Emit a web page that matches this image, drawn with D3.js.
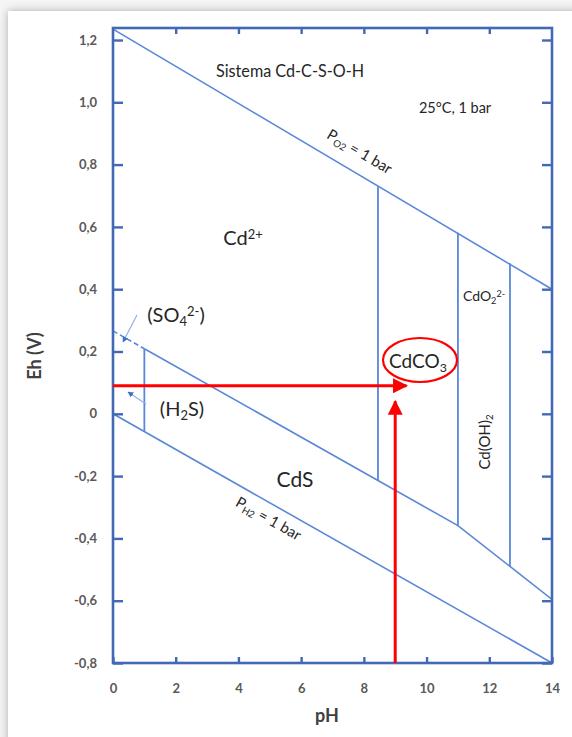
<!DOCTYPE html>
<html>
<head>
<meta charset="utf-8">
<script src="https://cdn.jsdelivr.net/npm/d3@7/dist/d3.min.js"></script>
<style>
  html, body { margin: 0; padding: 0; background: #ffffff; }
  svg { display: block; }
  text { font-family: Lato, "Open Sans", sans-serif; }
</style>
</head>
<body>
<svg id="chart" width="572" height="737"></svg>
<script>
// Eh–pH diagram, Cd-C-S-O-H system at 25 °C, 1 bar
const xTicks = [0, 2, 4, 6, 8, 10, 12, 14];
const yTicks = [-0.8, -0.6, -0.4, -0.2, 0, 0.2, 0.4, 0.6, 0.8, 1.0, 1.2];
const yTickLabels = ["-0,8", "-0,6", "-0,4", "-0,2", "0", "0,2", "0,4", "0,6", "0,8", "1,0", "1,2"];

// water stability limits (pH, Eh)
const o2Line = [[0, 1.235], [14, 0.40]];
const h2Line = [[0, 0], [14, -0.80]];
// sulfate / sulfide boundary, dashed where it leaves the Cd field
const sulfurDashed = [[0, 0.266], [1.0, 0.209]];
const sulfurLine = [[1.0, 0.209], [8.45, -0.214], [11.0, -0.359], [12.66, -0.490], [14, -0.596]];
// vertical phase boundaries: pH, upper Eh, lower Eh
const verticals = [
  [1.0, 0.209, -0.057],
  [8.45, 0.73, -0.214],
  [11.0, 0.581, -0.359],
  [12.66, 0.483, -0.490]
];
// conditions marked with red arrows
const markPH = 9.0, markEh = 0.09;
const hArrow = [[0, markEh], [9.36, markEh]];
const vArrow = [[markPH, -0.8], [markPH, 0.04]];

const svg = d3.select("#chart");
const frame = { left: 113, right: 552, top: 28, bottom: 663 };
const x = d3.scaleLinear().domain([0, 14]).range([frame.left, frame.right]);
const y = d3.scaleLinear().domain([-0.8, 1.2]).range([frame.bottom, 40]);

// card with soft shadow
const defs = svg.append("defs");
const sh = defs.append("filter").attr("id", "shadow").attr("x", "-10%").attr("y", "-10%").attr("width", "120%").attr("height", "120%");
sh.append("feGaussianBlur").attr("in", "SourceAlpha").attr("stdDeviation", 5);
sh.append("feOffset").attr("dx", 0).attr("dy", 0).attr("result", "b");
sh.append("feComponentTransfer").append("feFuncA").attr("type", "linear").attr("slope", 0.3);
const m = sh.append("feMerge");
m.append("feMergeNode");
m.append("feMergeNode").attr("in", "SourceGraphic");
svg.append("rect").attr("width", 572).attr("height", 737).attr("fill", "#f5f5f5");
svg.append("rect").attr("x", 8).attr("y", 11).attr("width", 580).attr("height", 740)
  .attr("fill", "#ffffff").attr("filter", "url(#shadow)");

defs.append("clipPath").attr("id", "plot").append("rect")
  .attr("x", frame.left).attr("y", frame.top)
  .attr("width", frame.right - frame.left).attr("height", frame.bottom - frame.top);

const line = d3.line().x(d => x(d[0])).y(d => y(d[1]));
const blue = "#5a88d8";
const g = svg.append("g").attr("clip-path", "url(#plot)");

g.append("path").attr("d", line(o2Line)).attr("fill", "none").attr("stroke", blue).attr("stroke-width", 1.6);
g.append("path").attr("d", line(h2Line)).attr("fill", "none").attr("stroke", blue).attr("stroke-width", 1.6);
g.append("path").attr("d", line(sulfurDashed)).attr("fill", "none").attr("stroke", blue).attr("stroke-width", 1.6).attr("stroke-dasharray", "5,3");
g.append("path").attr("d", line(sulfurLine)).attr("fill", "none").attr("stroke", blue).attr("stroke-width", 1.6);
g.selectAll("line.v").data(verticals).join("line").attr("class", "v")
  .attr("x1", d => x(d[0])).attr("x2", d => x(d[0]))
  .attr("y1", d => y(d[1])).attr("y2", d => y(d[2]))
  .attr("stroke", blue).attr("stroke-width", 1.8);

// frame and inward ticks
const frameColor = "#4169b4";
svg.append("rect").attr("x", frame.left).attr("y", frame.top)
  .attr("width", frame.right - frame.left).attr("height", frame.bottom - frame.top)
  .attr("fill", "none").attr("stroke", frameColor).attr("stroke-width", 2.6);
const axB = d3.axisBottom(x).tickValues(xTicks).tickSize(-6).tickFormat(d => d).tickPadding(21);
const axT = d3.axisTop(x).tickValues(xTicks.slice(1, -1)).tickSize(-6).tickFormat("");
const axL = d3.axisLeft(y).tickValues(yTicks).tickSize(-10).tickFormat((d, i) => yTickLabels[i]).tickPadding(16);
const axR = d3.axisRight(y).tickValues(yTicks).tickSize(-10).tickFormat("");
function styleAxis(sel) {
  sel.select(".domain").remove();
  sel.selectAll(".tick line").attr("stroke", frameColor).attr("stroke-width", 2.4);
  sel.selectAll(".tick text").attr("fill", "#595959").attr("font-size", 13)
    .attr("font-weight", 700).style("font-family", "Lato, sans-serif");
}
svg.append("g").attr("transform", `translate(0,${frame.bottom})`).call(axB).call(styleAxis);
svg.append("g").attr("transform", `translate(0,${frame.top})`).call(axT).call(styleAxis);
svg.append("g").attr("transform", `translate(${frame.left},0)`).call(axL).call(styleAxis);
svg.append("g").attr("transform", `translate(${frame.right},0)`).call(axR).call(styleAxis);

// axis titles
svg.append("text").attr("x", 327).attr("y", 722).attr("text-anchor", "middle")
  .attr("font-size", 18).attr("font-weight", 700).attr("fill", "#404040").text("pH");
svg.append("text").attr("transform", "translate(41,356) rotate(-90)").attr("text-anchor", "middle")
  .attr("font-size", 18).attr("font-weight", 700).attr("fill", "#404040").text("Eh (V)");

// red arrows and ellipse
const red = "#ff0000";
defs.append("marker").attr("id", "arrow").attr("viewBox", "0 0 10 10")
  .attr("refX", 9).attr("refY", 5).attr("markerWidth", 5).attr("markerHeight", 5)
  .attr("markerUnits", "strokeWidth").attr("orient", "auto")
  .append("path").attr("d", "M0,0 L10,5 L0,10 Z").attr("fill", red);
svg.append("path").attr("d", line(hArrow)).attr("stroke", red).attr("stroke-width", 3).attr("fill", "none").attr("marker-end", "url(#arrow)");
svg.append("path").attr("d", line(vArrow)).attr("stroke", red).attr("stroke-width", 3).attr("fill", "none").attr("marker-end", "url(#arrow)");
svg.append("ellipse").attr("cx", 420).attr("cy", 360).attr("rx", 37).attr("ry", 22)
  .attr("fill", "none").attr("stroke", red).attr("stroke-width", 2.2);

// field labels
const txt = "#262626";
function label(xp, yp, size, parts, anchor = "middle", transform = null) {
  const t = svg.append("text").attr("x", xp).attr("y", yp).attr("font-size", size)
    .attr("fill", txt).attr("text-anchor", anchor);
  if (transform) t.attr("transform", transform);
  parts.forEach(p => {
    const s = t.append("tspan").text(p[0]);
    if (p[1] === "sub") s.attr("baseline-shift", "-30%").attr("font-size", size * 0.65);
    if (p[1] === "sup") s.attr("baseline-shift", "45%").attr("font-size", size * 0.65);
  });
  return t;
}
label(290, 77, 18, [["Sistema Cd-C-S-O-H"]])
  .attr("textLength", 148).attr("lengthAdjust", "spacingAndGlyphs");
label(455, 113, 14.5, [["25°C, 1 bar"]]);
label(243, 245, 20, [["Cd"], ["2+", "sup"]]);
label(176, 322, 20, [["(SO"], ["4", "sub"], ["2-", "sup"], [")"]]);
label(182, 416, 20, [["(H"], ["2", "sub"], ["S)"]]);
label(295, 487, 21, [["CdS"]]);
label(418, 368, 19, [["CdCO"], ["3", "sub"]]);
label(484, 301, 14, [["CdO"], ["2", "sub"], ["2-", "sup"]]);
label(0, 0, 15, [["Cd(OH)"], ["2", "sub"]], "middle", "translate(490,442) rotate(-90)");

// water-limit labels along the lines
const angO2 = Math.atan2(y(o2Line[1][1]) - y(o2Line[0][1]), x(o2Line[1][0]) - x(o2Line[0][0])) * 180 / Math.PI;
const angH2 = Math.atan2(y(h2Line[1][1]) - y(h2Line[0][1]), x(h2Line[1][0]) - x(h2Line[0][0])) * 180 / Math.PI;
label(0, 0, 15, [["P"], ["O2", "sub"], [" = 1 bar"]], "middle", `translate(357,156) rotate(${angO2})`);
label(0, 0, 15, [["P"], ["H2", "sub"], [" = 1 bar"]], "middle", `translate(266,523) rotate(${angH2})`);

// leader arrows for the sulfur species
const light = "#8fb0e6";
defs.append("marker").attr("id", "small").attr("viewBox", "0 0 10 10")
  .attr("refX", 9).attr("refY", 5).attr("markerWidth", 6).attr("markerHeight", 6)
  .attr("markerUnits", "userSpaceOnUse").attr("orient", "auto")
  .append("path").attr("d", "M0,0 L10,5 L0,10 Z").attr("fill", "#3f6fc7");
svg.append("line").attr("x1", 137).attr("y1", 315).attr("x2", 123).attr("y2", 342)
  .attr("stroke", light).attr("stroke-width", 1.2).attr("marker-end", "url(#small)");
svg.append("line").attr("x1", 146).attr("y1", 404).attr("x2", 128).attr("y2", 392)
  .attr("stroke", light).attr("stroke-width", 1.2).attr("marker-end", "url(#small)");
</script>
</body>
</html>
